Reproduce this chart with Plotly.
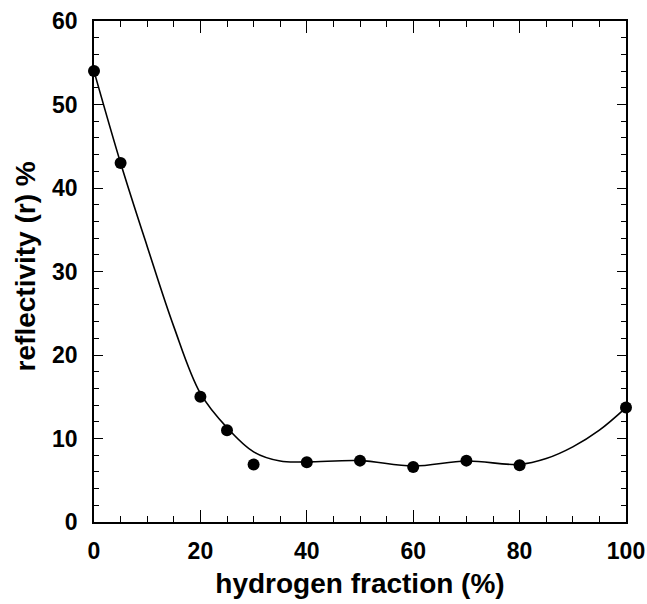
import plotly.graph_objects as go

# measured points
x_pts = [0, 5, 20, 25, 30, 40, 50, 60, 70, 80, 100]
y_pts = [54.0, 43.0, 15.0, 11.0, 6.9, 7.15, 7.35, 6.6, 7.35, 6.8, 13.7]

# smooth guide curve
x_fit = [0, 5, 10, 15, 20, 25, 30, 35, 40, 50, 60, 70, 80, 85, 90, 95, 100]
y_fit = [54.0, 43.0, 33.0, 23.4, 15.4, 11.3, 8.4, 7.3, 7.2, 7.35, 6.7, 7.3, 6.9, 7.6, 9.0, 11.0, 13.7]

x_ticks = [0, 20, 40, 60, 80, 100]
y_ticks = [0, 10, 20, 30, 40, 50, 60]

fig = go.Figure()
fig.add_trace(go.Scatter(x=x_fit, y=y_fit, mode="lines",
                         line=dict(color="black", width=1.6, shape="spline", smoothing=1.0),
                         showlegend=False, hoverinfo="skip"))
fig.add_trace(go.Scatter(x=x_pts, y=y_pts, mode="markers",
                         marker=dict(color="black", size=12),
                         showlegend=False, cliponaxis=False))

font_family = "Liberation Sans, Arial, sans-serif"
axis_common = dict(
    showline=True, linecolor="black", linewidth=1.6, mirror="allticks",
    ticks="inside", tickcolor="black", tickwidth=1.4,
    showgrid=False, zeroline=False, automargin=False,
    tickfont=dict(family=font_family, size=23, color="black", weight="bold"),
)
fig.update_xaxes(range=[0, 100], tickvals=x_ticks, ticklen=12,
                 minor=dict(dtick=5, ticklen=6, ticks="inside", tickcolor="black", tickwidth=1.4, showgrid=False),
                 title=dict(text="hydrogen fraction (%)",
                            font=dict(family=font_family, size=28, color="black", weight="bold"), standoff=10),
                 ticklabelstandoff=8,
                 **axis_common)
fig.update_yaxes(range=[0, 60], tickvals=y_ticks, ticklen=9,
                 minor=dict(dtick=2, ticklen=5, ticks="inside", tickcolor="black", tickwidth=1.4, showgrid=False),
                 ticklabelstandoff=10,
                 **axis_common)
fig.add_annotation(text="reflectivity (r) %", xref="paper", yref="paper",
                   x=-0.128, y=0.51, xanchor="center", yanchor="middle",
                   textangle=-90, showarrow=False,
                   font=dict(family=font_family, size=28, color="black", weight="bold"))
fig.update_layout(
    width=647, height=604,
    margin=dict(l=94, r=21, t=21, b=82),
    plot_bgcolor="white", paper_bgcolor="white",
)
fig.write_html("out.html", config={"displayModeBar": False},
               post_script="document.body.style.margin='0';document.body.style.overflow='hidden';")
